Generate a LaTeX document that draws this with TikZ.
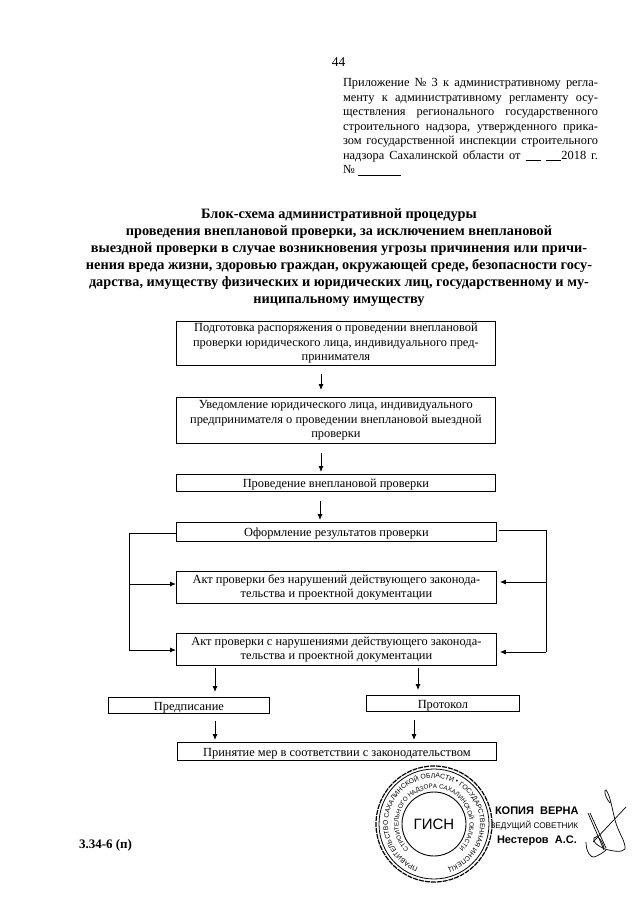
\documentclass[tikz,border=0pt]{standalone}
\usepackage{fontspec}
\setmainfont{Liberation Serif}
\newfontfamily\stampfont{Liberation Sans}
\usetikzlibrary{arrows.meta,decorations.text,calc}
\tikzset{
  flowbox/.style={draw=black,line width=0.8pt,anchor=north west,inner sep=0pt,align=center,font=\fontsize{12.4}{14.4}\selectfont,execute at begin node={\rule{0pt}{12pt}}},
  arr/.style={draw=black,line width=0.9pt,-{Latex[length=6pt,width=5pt]}},
  wire/.style={draw=black,line width=0.9pt},
  plain/.style={inner sep=0pt,outer sep=0pt},
  pen/.style={draw=black,line width=0.7pt},
}
\newcommand{\fbx}[6]{\node[flowbox,minimum width=#4pt-#2pt,minimum height=#5pt-#3pt] (#1) at (#2,#3) {#6};}
\begin{document}
\begin{tikzpicture}[x=1pt,y=-1pt]
\path[use as bounding box,fill=white] (0,0) rectangle (640,905);
\node[plain,font=\fontsize{13.5}{14}\selectfont] (pg) at (338.5,62) {44};
\node[plain,anchor=north west,text width=255pt,align=justify,font=\fontsize{12.4}{14.5}\selectfont] (app) at (343,78.5)
{Приложение № 3 к административному регла-\linebreak
менту к административному регламенту осу-\linebreak
ществления регионального государственного\linebreak
строительного надзора, утвержденного прика-\linebreak
зом государственной инспекции строительного\linebreak
надзора Сахалинской области от \underline{\ \ \ \ \ }\ \underline{\ \ \ \ \ }2018 г.\linebreak
№ \underline{\ \ \ \ \ \ \ \ \ \ \ \ \ \ }\hfill\null};
\node[plain,anchor=north,align=center,font=\bfseries\fontsize{14.3}{17}\selectfont] (title) at (339,208.5)
{Блок-схема административной процедуры\\
проведения внеплановой проверки, за исключением внеплановой\\
выездной проверки в случае возникновения угрозы причинения или причи-\\
нения вреда жизни, здоровью граждан, окружающей среде, безопасности госу-\\
дарства, имуществу физических и юридических лиц, государственному и му-\\
ниципальному имуществу};
\fbx{b1}{176}{321}{495}{365}{Подготовка распоряжения о проведении внеплановой\\проверки юридического лица, индивидуального пред-\\принимателя}
\fbx{b2}{176}{397}{495}{443}{Уведомление юридического лица, индивидуального\\предпринимателя о проведении внеплановой выездной\\проверки}
\fbx{b3}{176}{474}{495}{491}{Проведение внеплановой проверки}
\fbx{b4}{176}{522}{496}{541}{Оформление результатов проверки}
\fbx{b5}{176}{571}{496}{603}{Акт проверки без нарушений действующего законода-\\тельства и проектной документации}
\fbx{b6}{176}{633}{496}{665}{Акт проверки с нарушениями действующего законода-\\тельства и проектной документации}
\fbx{b7}{108}{697}{269}{713}{Предписание}
\fbx{b8}{366}{695}{519}{711}{Протокол}
\fbx{b9}{177}{742}{496}{760}{Принятие мер в соответствии с законодательством}
\coordinate (xa) at (321,0);
\coordinate (xc) at (320,0);
\coordinate (xl) at (215,0);
\coordinate (xr) at (418,0);
\coordinate (xq) at (414,0);
\coordinate (lb) at (129,533);
\coordinate (lm) at (129,584);
\coordinate (lz) at (129,650);
\coordinate (rt) at (546,530);
\coordinate (rm) at (546,582);
\coordinate (rz) at (546,652);
\coordinate (rs) at (499,530);
\draw[arr,shorten <=8pt,shorten >=7pt] (b1.south -| xa) -- (b2.north -| xa);
\draw[arr,shorten <=9pt,shorten >=2pt] (b2.south -| xa) -- (b3.north -| xa);
\draw[arr,shorten <=9pt,shorten >=2pt] (b3.south -| xc) -- (b4.north -| xc);
\draw[wire] (b4.west |- lb) -- (lb) -- (lz);
\draw[arr] (lm) -- (lm -| b5.west);
\draw[arr] (lz) -- (lz -| b6.west);
\draw[wire] (rs) -- (rt) -- (rz);
\draw[arr,shorten >=3pt] (rm) -- (rm -| b5.east);
\draw[arr,shorten >=3pt] (rz) -- (rz -| b6.east);
\draw[arr,shorten <=2pt,shorten >=5pt] (b6.south -| xl) -- (b7.north -| xl);
\draw[arr,shorten <=2pt,shorten >=5pt] (b6.south -| xr) -- (b8.north -| xr);
\draw[arr,shorten <=7pt,shorten >=2pt] (b7.south -| xl) -- (b9.north -| xl);
\draw[arr,shorten <=8pt,shorten >=2pt] (b8.south -| xq) -- (b9.north -| xq);
\node[plain,font=\bfseries\fontsize{13}{14}\selectfont,anchor=west] (code) at (79,845) {3.34-6 (п)};
% copy mark
\node[plain,anchor=west,font=\stampfont\bfseries\fontsize{11}{12}\selectfont] (k1) at (495,811) {КОПИЯ\ \ ВЕРНА};
\node[plain,anchor=west,font=\stampfont\fontsize{8.2}{10}\selectfont] (k2) at (490,826) {ВЕДУЩИЙ СОВЕТНИК};
\node[plain,anchor=west,font=\stampfont\bfseries\fontsize{11}{12}\selectfont] (k3) at (497,841) {Нестеров\ \ А.С.};
% stamp
\coordinate (st) at (434,824);
\fill[white] (st) circle[radius=58pt];
\draw[line width=1.2pt,dash pattern=on 5pt off 1pt] (st) circle[radius=58pt];
\draw[line width=0.8pt] (st) circle[radius=55pt];
\draw[line width=0.9pt] (st) circle[radius=32pt];
\path[decorate,decoration={text along path,text align=fit to path,
  text={|\stampfont\fontsize{6.8}{8}\selectfont|ПРАВИТЕЛЬСТВО САХАЛИНСКОЙ ОБЛАСТИ • ГОСУДАРСТВЕННАЯ ИНСПЕКЦИЯ •}}]
  (st) ++(250:46pt) arc[start angle=250,end angle=-75,radius=46pt];
\path[decorate,decoration={text along path,text align=fit to path,
  text={|\stampfont\fontsize{6.2}{8}\selectfont|СТРОИТЕЛЬНОГО НАДЗОРА САХАЛИНСКОЙ ОБЛАСТИ}}]
  (st) ++(225:35.5pt) arc[start angle=225,end angle=-45,radius=35.5pt];
\node[plain,font=\stampfont\fontsize{15}{15}\selectfont] (gisn) at (st) {ГИСН};
% signature
\draw[pen] (610,803) .. controls (604,796) and (604,788) .. (606,790) .. controls (610,795) and (612,808) .. (615,820) .. controls (618,832) and (626,842) .. (625,849) .. controls (622,853) and (612,851) .. (605,849) .. controls (598,846) and (592,842) .. (594,838) .. controls (597,833) and (603,842) .. (604,848);
\draw[pen] (588,813) -- (604,850);
\draw[pen] (590,813) -- (606,848);
\draw[pen] (626,807) -- (593,842);
\draw[pen] (586,842) .. controls (586,852) and (591,858) .. (594,857) .. controls (598,856) and (604,852) .. (606,850);
\end{tikzpicture}
\end{document}
